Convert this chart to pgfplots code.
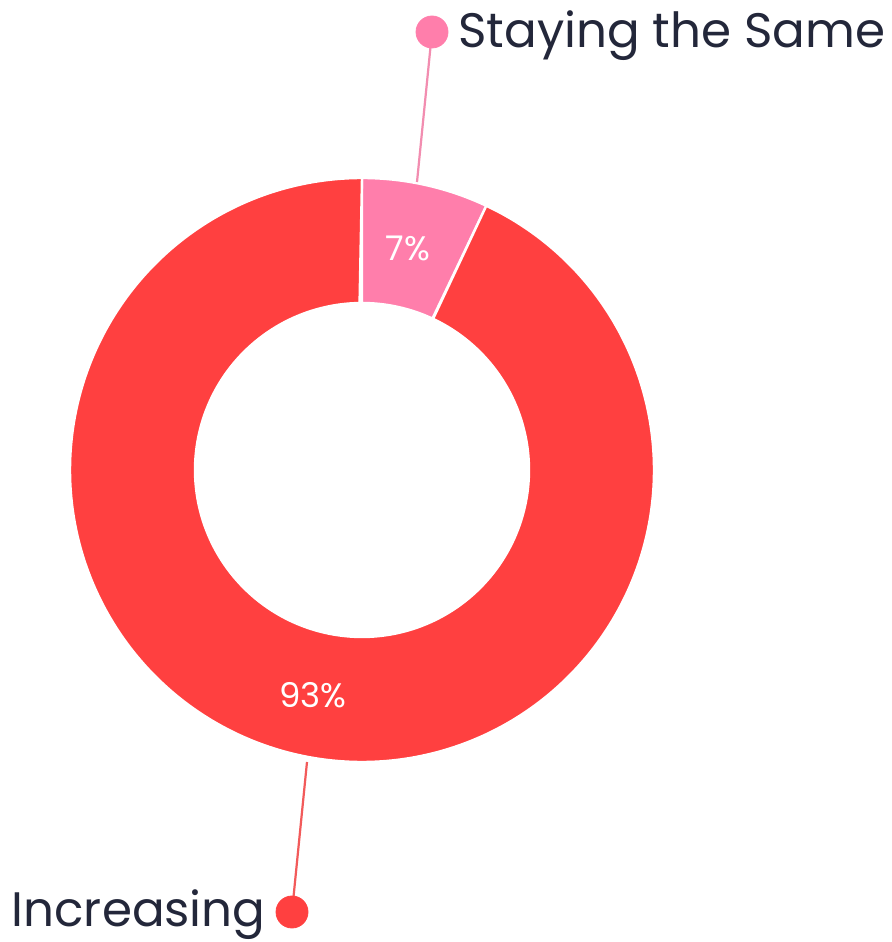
\documentclass[border=0pt]{standalone}
\usepackage{pgfplots}
\pgfplotsset{compat=1.18}
\usepackage{fontspec}
\setmainfont{Poppins}
\definecolor{incred}{HTML}{FF4040}
\definecolor{samepink}{HTML}{FF7EAB}
\definecolor{linepink}{HTML}{F28DB0}
\definecolor{linered}{HTML}{F25A5A}
\definecolor{navy}{HTML}{23273A}
\begin{document}
\begin{tikzpicture}
% shares (percent) -- start at 12 o'clock, go clockwise
\def\vsame{7}
\def\vinc{93}
\pgfmathsetmacro{\aA}{90}
\pgfmathsetmacro{\aB}{90-3.6*\vsame}
\pgfmathsetmacro{\aC}{\aB-3.6*\vinc}
\def\cx{362}\def\cy{472}\def\Ro{292}\def\Ri{167}
\begin{axis}[
    scale only axis,
    width=446pt, height=471pt,
    xmin=0, xmax=892, ymin=0, ymax=942,
    hide axis, clip=false,
]
% ring sectors: t in [0,1] outer arc, t in [1,2] inner arc back
\addplot[fill=samepink, draw=white, line width=1.2pt, domain=0:2, samples=201, variable=\t]
    ({\cx+ifthenelse(\t<=1,\Ro,\Ri)*cos(\aA+(\aB-\aA)*ifthenelse(\t<=1,\t,2-\t))},
     {\cy+ifthenelse(\t<=1,\Ro,\Ri)*sin(\aA+(\aB-\aA)*ifthenelse(\t<=1,\t,2-\t))}) -- cycle;
\addplot[fill=incred, draw=white, line width=1.2pt, domain=0:2, samples=801, variable=\t]
    ({\cx+ifthenelse(\t<=1,\Ro,\Ri)*cos(\aB+(\aC-\aB)*ifthenelse(\t<=1,\t,2-\t))},
     {\cy+ifthenelse(\t<=1,\Ro,\Ri)*sin(\aB+(\aC-\aB)*ifthenelse(\t<=1,\t,2-\t))}) -- cycle;
% leader lines and dots
\addplot[linepink, line width=1.1pt] coordinates {(417,760) (432,910)};
\addplot[linered, line width=1.1pt] coordinates {(307,180) (292,30)};
\addplot[only marks, mark=*, mark size=8pt, samepink, mark options={draw=samepink}] coordinates {(432,910)};
\addplot[only marks, mark=*, mark size=8pt, incred, mark options={draw=incred}] coordinates {(292,30)};
% labels
\node[white, font=\fontsize{17}{20}\selectfont] at (axis cs:408,694) {7\%};
\node[white, font=\fontsize{17}{20}\selectfont] at (axis cs:313,247) {93\%};
\node[navy, anchor=base west, inner sep=0pt, font=\fontsize{24.2}{29}\selectfont] at (axis cs:458,894) {Staying the Same};
\node[navy, anchor=base east, inner sep=0pt, font=\fontsize{24.2}{29}\selectfont] at (axis cs:266,15) {Increasing};
\path (rel axis cs:0,0) (rel axis cs:1,1);
\end{axis}
\end{tikzpicture}
\end{document}
